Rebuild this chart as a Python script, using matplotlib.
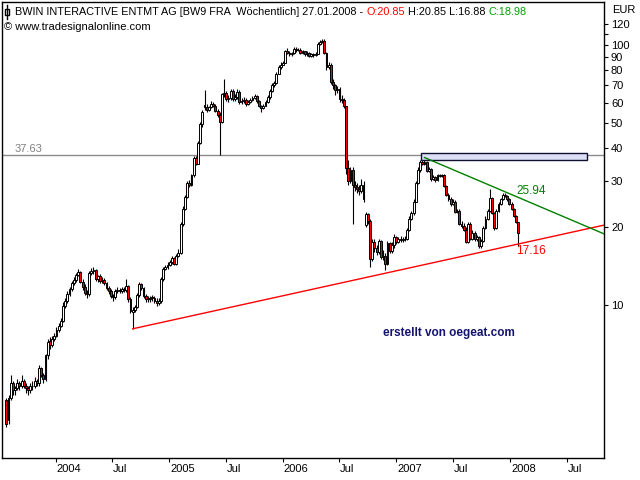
import matplotlib
matplotlib.use('Agg')
import matplotlib.pyplot as plt
import matplotlib.dates as mdates
import matplotlib.transforms as mtransforms
from matplotlib.patches import Rectangle
from matplotlib.lines import Line2D
from matplotlib.ticker import FixedLocator, NullFormatter
import numpy as np
import pandas as pd

plt.rcParams['font.family'] = ['Liberation Sans', 'DejaVu Sans']

# ---------------- data (weekly candles, EUR) ----------------
last_date = '2008-01-27'

opens = [4.3, 3.6, 4.4, 5.0, 4.7, 4.8, 5.0, 4.9, 5.1, 4.9,
         4.8, 4.7, 4.9, 4.9, 5.1, 5.0, 5.7, 5.4, 5.2, 6.4,
         7.3, 7.0, 7.4, 7.6, 8.0, 8.3, 8.7, 9.9, 10.4, 11.0,
         11.5, 12.1, 12.5, 13.1, 13.4, 12.3, 11.7, 11.1, 11.0, 13.3,
         13.5, 13.6, 12.6, 12.9, 12.4, 12.5, 12.1, 11.6, 11.3, 10.8,
         10.7, 11.3, 11.4, 11.3, 11.5, 11.4, 11.8, 10.5, 9.4, 9.6,
         9.8, 10.9, 12.0, 11.6, 10.8, 10.5, 10.6, 10.7, 10.6, 10.4,
         10.2, 10.4, 12.6, 13.8, 14.0, 14.3, 14.6, 15.2, 14.4, 15.5,
         15.9, 20.5, 23.5, 26.0, 29.5, 29.0, 31.5, 36.8, 35.0, 42.0,
         49.5, 59.0, 57.5, 56.0, 57.5, 59.5, 58.5, 55.5, 54.0, 50.5,
         64.5, 65.5, 62.0, 62.5, 66.5, 62.0, 63.0, 66.0, 60.5, 61.0,
         61.5, 59.5, 60.5, 61.5, 62.5, 63.5, 61.0, 58.5, 57.0, 58.5,
         60.5, 63.0, 66.5, 70.0, 71.5, 77.5, 82.0, 84.0, 85.5, 94.5,
         93.5, 92.0, 93.0, 96.5, 95.5, 96.0, 93.0, 94.5, 92.0, 93.0,
         91.0, 92.0, 91.5, 92.5, 101.0, 103.0, 104.0, 93.0, 82.0, 84.0,
         72.0, 70.0, 67.0, 68.0, 62.0, 61.5, 58.0, 33.5, 30.0, 33.0,
         29.0, 28.5, 28.0, 27.5, 29.0, 20.3, 22.3, 21.0, 15.0, 17.5,
         16.5, 16.0, 17.6, 15.3, 15.5, 14.4, 17.3, 16.2, 17.0, 18.2,
         17.5, 17.9, 17.8, 17.9, 18.0, 19.5, 21.5, 22.5, 25.0, 29.5,
         33.0, 35.5, 35.0, 35.5, 32.8, 33.2, 30.5, 31.0, 30.2, 31.5,
         31.3, 31.6, 28.8, 26.5, 25.5, 24.5, 25.0, 22.8, 23.0, 20.5,
         20.2, 19.5, 17.5, 20.5, 18.0, 19.0, 17.9, 18.2, 16.8, 17.6,
         19.8, 21.5, 23.0, 25.8, 22.5, 19.8, 23.0, 24.5, 25.5, 26.5,
         26.3, 25.5, 24.5, 23.5, 22.0, 20.85]

highs = [4.4, 4.5, 5.4, 5.1, 4.9, 5.2, 5.1, 5.4, 5.2, 5.0,
         4.9, 5.0, 5.1, 5.3, 5.2, 5.9, 5.8, 5.5, 6.5, 7.4,
         7.5, 7.6, 7.8, 8.2, 8.5, 8.9, 10.3, 10.6, 11.3, 11.7,
         12.4, 12.8, 13.3, 13.8, 13.5, 12.6, 12.0, 11.4, 13.5, 13.9,
         14.0, 13.8, 13.1, 13.2, 12.8, 12.7, 12.3, 11.8, 11.5, 11.0,
         11.5, 11.7, 11.6, 11.7, 11.7, 12.6, 11.9, 10.7, 9.8, 10.0,
         11.1, 12.3, 12.2, 11.7, 11.0, 10.8, 10.8, 10.9, 10.8, 10.6,
         10.6, 12.8, 14.0, 14.3, 14.6, 14.9, 15.5, 15.3, 15.7, 16.4,
         20.9, 24.0, 26.5, 30.0, 30.2, 32.0, 37.5, 37.3, 42.8, 50.5,
         56.0, 67.0, 59.5, 58.5, 61.0, 60.5, 59.5, 56.5, 55.0, 65.5,
         74.0, 66.5, 64.0, 68.0, 67.5, 64.5, 67.5, 67.0, 62.5, 63.0,
         62.5, 61.5, 62.5, 63.5, 65.0, 64.0, 61.5, 59.0, 59.5, 61.5,
         64.0, 67.5, 71.5, 73.0, 79.0, 83.5, 86.0, 87.0, 96.0, 97.0,
         95.0, 94.0, 98.0, 98.0, 97.5, 97.0, 96.0, 95.0, 94.5, 94.0,
         93.5, 93.0, 94.0, 102.5, 104.5, 105.5, 105.0, 94.0, 86.0, 85.0,
         74.0, 71.0, 69.5, 69.0, 64.0, 62.5, 58.5, 36.0, 34.0, 34.0,
         30.0, 29.5, 29.0, 30.5, 30.0, 22.8, 22.5, 21.5, 18.0, 18.0,
         17.0, 18.0, 17.8, 16.3, 15.8, 17.7, 17.5, 17.4, 18.8, 18.5,
         18.3, 18.4, 18.3, 18.4, 19.8, 21.9, 23.0, 25.5, 30.0, 33.8,
         36.0, 37.3, 36.5, 35.8, 34.0, 33.6, 31.5, 31.3, 32.0, 32.0,
         32.0, 31.8, 29.0, 27.0, 26.0, 25.5, 25.3, 23.5, 23.3, 21.0,
         20.6, 19.9, 20.9, 20.8, 19.4, 19.2, 18.6, 18.4, 17.9, 20.1,
         21.9, 23.4, 28.0, 26.0, 22.8, 23.4, 24.9, 25.9, 26.9, 27.0,
         26.6, 25.8, 24.8, 23.7, 22.2, 20.85]

lows = [3.4, 3.5, 4.3, 4.5, 4.5, 4.7, 4.7, 4.8, 4.8, 4.6,
        4.5, 4.6, 4.7, 4.8, 4.9, 4.9, 5.3, 5.0, 5.1, 6.2,
        6.8, 6.9, 7.3, 7.5, 7.9, 8.2, 8.6, 9.7, 10.2, 10.8,
        11.3, 11.9, 12.3, 12.9, 12.1, 11.4, 10.9, 10.6, 10.8, 13.0,
        13.2, 12.4, 12.3, 12.2, 12.2, 11.9, 11.4, 11.0, 10.6, 10.4,
        10.5, 11.1, 11.1, 11.1, 11.2, 11.2, 10.3, 9.3, 8.1, 9.4,
        9.7, 10.7, 11.4, 10.6, 10.3, 10.3, 10.3, 10.4, 10.2, 9.9,
        10.0, 10.2, 12.4, 13.6, 13.8, 14.1, 14.4, 14.2, 14.2, 15.3,
        15.7, 20.2, 23.2, 25.8, 28.5, 28.8, 31.2, 34.5, 34.8, 41.5,
        48.5, 56.0, 55.0, 55.5, 57.0, 57.5, 55.0, 53.0, 37.6, 50.0,
        63.0, 61.0, 60.5, 61.5, 61.0, 61.0, 62.0, 59.5, 59.5, 60.0,
        58.5, 59.0, 60.0, 61.0, 62.0, 60.0, 57.5, 55.0, 56.5, 58.0,
        60.0, 62.0, 66.0, 69.0, 71.0, 77.0, 81.0, 83.5, 85.0, 92.0,
        91.0, 91.0, 92.0, 94.0, 94.5, 92.0, 92.5, 91.0, 91.0, 90.0,
        90.0, 90.0, 90.5, 92.0, 100.0, 102.0, 92.0, 80.0, 80.5, 71.0,
        68.0, 64.0, 65.5, 60.5, 60.0, 57.0, 32.0, 29.0, 29.5, 20.5,
        27.5, 27.0, 26.5, 27.0, 25.0, 20.0, 20.5, 14.0, 14.8, 16.0,
        15.6, 15.7, 15.0, 14.9, 13.6, 14.2, 15.9, 15.9, 16.6, 17.2,
        17.3, 17.5, 17.5, 17.6, 17.8, 19.3, 21.2, 22.2, 24.8, 29.2,
        32.6, 34.4, 34.6, 32.4, 32.4, 30.1, 30.2, 29.8, 30.0, 31.0,
        31.0, 28.5, 26.2, 25.2, 24.0, 24.3, 22.5, 22.6, 20.3, 19.8,
        19.2, 17.3, 17.3, 17.8, 17.8, 17.6, 17.7, 16.5, 16.6, 17.4,
        19.6, 21.3, 22.8, 22.3, 19.5, 19.6, 22.8, 24.3, 25.3, 26.0,
        25.2, 24.3, 23.2, 21.8, 20.6, 16.88]

closes = [3.5, 4.4, 5.0, 4.7, 4.8, 5.0, 4.9, 5.1, 4.9, 4.8,
          4.7, 4.9, 4.9, 5.1, 5.0, 5.7, 5.4, 5.2, 6.4, 7.2,
          7.0, 7.4, 7.6, 8.0, 8.3, 8.7, 9.9, 10.4, 11.0, 11.5,
          12.1, 12.5, 13.1, 13.4, 12.3, 11.7, 11.1, 11.0, 13.3, 13.5,
          13.6, 12.6, 12.9, 12.4, 12.5, 12.1, 11.6, 11.3, 10.8, 10.7,
          11.3, 11.4, 11.3, 11.5, 11.4, 11.8, 10.5, 9.5, 9.6, 9.8,
          10.9, 12.0, 11.6, 10.8, 10.5, 10.6, 10.5, 10.6, 10.4, 10.2,
          10.4, 12.6, 13.8, 14.0, 14.3, 14.6, 15.2, 14.4, 15.5, 15.9,
          20.5, 23.5, 26.0, 29.5, 29.0, 31.5, 36.8, 35.0, 42.0, 49.5,
          55.0, 57.5, 56.0, 57.5, 59.5, 58.5, 55.5, 54.0, 50.5, 64.5,
          65.5, 62.0, 62.5, 66.5, 62.0, 63.0, 66.0, 60.5, 61.0, 61.5,
          59.5, 60.5, 61.5, 62.5, 63.5, 61.0, 58.5, 57.0, 58.5, 60.5,
          63.0, 66.5, 70.0, 71.5, 77.5, 82.0, 84.0, 85.5, 94.5, 93.5,
          92.0, 93.0, 96.5, 95.5, 96.0, 93.0, 94.5, 92.0, 93.0, 91.0,
          92.0, 91.5, 92.5, 101.0, 103.0, 104.0, 93.0, 82.0, 84.0, 72.0,
          70.0, 67.0, 68.0, 62.0, 61.5, 58.0, 33.5, 30.0, 33.0, 29.0,
          28.5, 28.0, 27.5, 29.0, 25.5, 22.3, 21.0, 15.0, 17.5, 16.5,
          16.0, 17.6, 15.3, 15.5, 14.4, 17.3, 16.2, 17.0, 18.2, 17.5,
          17.9, 17.8, 17.9, 18.0, 19.5, 21.5, 22.5, 25.0, 29.5, 33.0,
          35.5, 35.0, 35.5, 32.8, 33.2, 30.5, 31.0, 30.2, 31.5, 31.3,
          31.6, 28.8, 26.5, 25.5, 24.5, 25.0, 22.8, 23.0, 20.5, 20.2,
          19.5, 17.5, 20.5, 18.0, 19.0, 17.9, 18.2, 16.8, 17.6, 19.8,
          21.5, 23.0, 25.8, 22.5, 19.8, 23.0, 24.5, 25.5, 26.5, 26.3,
          25.5, 24.5, 23.5, 22.0, 20.85, 18.98]

resistance_level = 37.63
zone_start, zone_end = '2007-03-22', '2008-09-05'
zone_low, zone_high = 36.1, 38.4
support_idx, support_val, support_last = 58, 8.1, 17.16
down_idx, down_val, down_last = 192, 36.9, 25.94

x_ticks = ['2004-01-01', '2004-07-01', '2005-01-01', '2005-07-01', '2006-01-01',
           '2006-07-01', '2007-01-01', '2007-07-01', '2008-01-01', '2008-07-01']
x_labels = ['2004', 'Jul', '2005', 'Jul', '2006', 'Jul', '2007', 'Jul', '2008', 'Jul']
y_ticks = [10, 20, 30, 40, 50, 60, 70, 80, 90, 100, 120]
y_minor = [110]

# ---------------- figure ----------------
W, H = 640, 480
fig = plt.figure(figsize=(6.4, 4.8), dpi=100)
fig.patch.set_facecolor('white')
ax = fig.add_axes([2 / W, 22 / H, 602 / W, 456 / H])
ax.set_yscale('log')
ax.set_ylim(2.58, 146.3)
ax.set_xlim(mdates.date2num(pd.Timestamp('2003-07-13')),
            mdates.date2num(pd.Timestamp('2008-10-29')))

dates = pd.date_range(end=last_date, periods=len(closes), freq='7D')
xd = mdates.date2num(dates)
o = np.array(opens); h = np.array(highs); l = np.array(lows); c = np.array(closes)

# wicks
ax.vlines(xd, l, h, color='black', linewidth=0.8, zorder=2)
# bodies
up = c >= o
bot = np.minimum(o, c)
top = np.maximum(o, c)
colors = np.where(up, 'white', '#ff0000')
ax.bar(xd, top - bot, bottom=bot, width=6.0, color=colors,
       edgecolor='black', linewidth=0.7, zorder=3, align='center')

# resistance line
ax.axhline(resistance_level, color='#8a8a8a', linewidth=1, zorder=1)
ax.annotate(f'{resistance_level:.2f}', xy=(0, resistance_level),
            xycoords=('axes fraction', 'data'), xytext=(13, 1),
            textcoords='offset pixels', color='#808080', fontsize=8,
            ha='left', va='bottom')

# zone rectangle
zs, ze = mdates.date2num(pd.Timestamp(zone_start)), mdates.date2num(pd.Timestamp(zone_end))
ax.add_patch(Rectangle((zs, zone_low), ze - zs, zone_high - zone_low,
                       facecolor='#dcdff7', edgecolor='#101030', linewidth=1, zorder=4))

# trend lines
xmax = ax.get_xlim()[1]

def trend(i0, v0, v1, color):
    x0, x1 = xd[i0], xd[-1]
    slope = (np.log10(v1) - np.log10(v0)) / (x1 - x0)
    vend = 10 ** (np.log10(v0) + slope * (xmax - x0))
    ax.plot([x0, xmax], [v0, vend], color=color, linewidth=1, zorder=5, clip_on=True)

trend(support_idx, support_val, support_last, '#ff0000')
trend(down_idx, down_val, down_last, '#008000')

ax.annotate(f'{down_last:.2f}', xy=(xd[-1], down_last), xytext=(-2, 6),
            textcoords='offset pixels', color='#008000', fontsize=8.5,
            ha='left', va='center', zorder=6)
ax.annotate(f'{support_last:.2f}', xy=(xd[-1], support_last), xytext=(-2, -7),
            textcoords='offset pixels', color='#ff0000', fontsize=8.5,
            ha='left', va='center', zorder=6)

ax.text(0.6333, 0.274, 'erstellt von oegeat.com', transform=ax.transAxes,
        color='#141470', fontsize=8.5, fontweight='bold', ha='left', va='center')

# axes styling
for s in ax.spines.values():
    s.set_color('black')
    s.set_linewidth(1)

ax.yaxis.tick_right()
ax.yaxis.set_major_locator(FixedLocator(y_ticks))
ax.yaxis.set_minor_locator(FixedLocator(y_minor))
ax.yaxis.set_minor_formatter(NullFormatter())
ax.set_yticks(y_ticks, [str(v) for v in y_ticks])
ax.tick_params(axis='y', which='both', direction='out', length=3, width=0.8,
               right=True, left=False, labelright=True, labelleft=False,
               pad=2, labelsize=8, colors='black')

ax.set_xticks(mdates.date2num(pd.to_datetime(x_ticks)), x_labels)
ax.xaxis.set_minor_locator(FixedLocator([]))
ax.tick_params(axis='x', direction='out', length=3, width=0.8, pad=1.5, labelsize=8)
offset = mtransforms.ScaledTranslation(1 / 100, 0, fig.dpi_scale_trans)
for lbl in ax.get_xticklabels():
    lbl.set_ha('left')
    lbl.set_transform(lbl.get_transform() + offset)

# header
fig.text(612 / W, 1 - 10 / H, 'EUR', fontsize=8, ha='left', va='center')

icon_x = 7 / W
fig.add_artist(Line2D([icon_x, icon_x], [1 - 5 / H, 1 - 19 / H], color='black',
                      linewidth=1, transform=fig.transFigure))
fig.add_artist(Rectangle((5 / W, 1 - 15 / H), 4 / W, 6 / H, facecolor='white',
                         edgecolor='black', linewidth=1, transform=fig.transFigure))

parts = [('BWIN INTERACTIVE ENTMT AG [BW9 FRA  W\u00f6chentlich] 27.01.2008 - ', 'black'),
         ('O:20.85', '#ff0000'),
         (' H:20.85 L:16.88 ', 'black'),
         ('C:18.98', '#00a000')]
renderer = fig.canvas.get_renderer()
xpos = 15 / W
for s, col in parts:
    t = fig.text(xpos, 1 - 12 / H, s, color=col, fontsize=7.85, ha='left', va='center')
    bb = t.get_window_extent(renderer)
    xpos = bb.x1 / W
fig.text(4 / W, 1 - 27 / H, '\u00a9 www.tradesignalonline.com', fontsize=8,
         ha='left', va='center')

fig.savefig('out.png', dpi=100, facecolor='white')
